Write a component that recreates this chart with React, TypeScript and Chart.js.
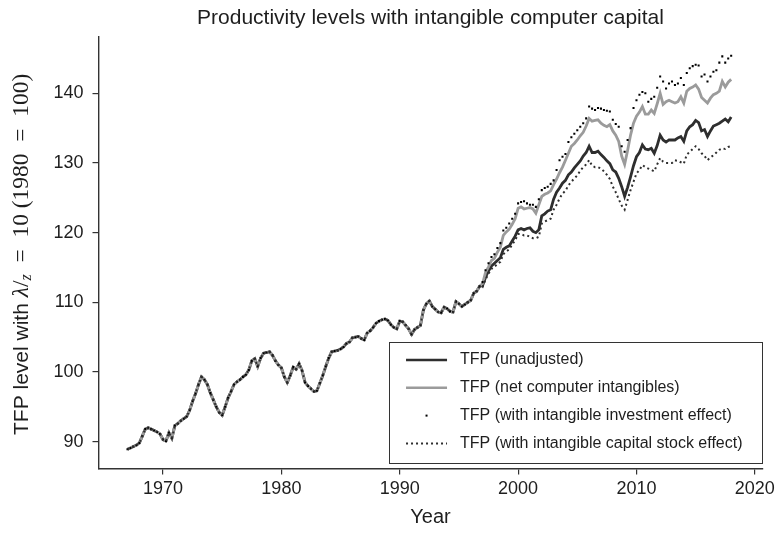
import React, { useEffect, useRef } from "react";
import { Chart, registerables } from "chart.js";

Chart.register(...registerables);

// ---- data (quarterly, first quarter 1967Q1) ----
const FIRST_YEAR = 1967;

// 1967Q1–1996Q4: all four series coincide
const commonTFP = [
  88.9, 89.1, 89.3, 89.5,
  89.8, 90.8, 91.8, 92.0,
  91.8, 91.6, 91.4, 91.1,
  90.3, 90.1, 91.3, 90.5,
  92.3, 92.6, 93.0, 93.3,
  93.6, 94.5, 95.8, 96.9,
  98.2, 99.3, 98.9, 98.2,
  97.0, 96.0, 95.0, 94.2,
  93.8, 95.0, 96.3, 97.2,
  98.2, 98.6, 98.9, 99.3,
  99.6, 100.3, 101.6, 101.9,
  100.8, 102.0, 102.7, 102.8,
  102.9, 102.4, 101.6, 101.0,
  100.6, 99.3, 98.5, 99.5,
  100.7, 100.4, 101.2, 100.2,
  98.5, 98.0, 97.6, 97.2,
  97.3, 98.4, 99.5, 100.8,
  102.0, 102.9, 103.0, 103.1,
  103.3, 103.6, 104.1, 104.3,
  104.9, 105.0, 105.1, 104.8,
  104.6, 105.6, 105.9, 106.4,
  107.0, 107.3, 107.5, 107.6,
  107.4, 106.8, 106.4, 106.2,
  107.3, 107.2, 106.7, 106.2,
  105.4, 106.1, 106.4, 106.7,
  108.9, 109.8, 110.2, 109.4,
  109.0, 108.6, 108.5, 109.3,
  109.1, 108.7, 108.6, 110.1,
  109.8, 109.4, 109.7, 110.0,
  110.3, 111.3, 111.6, 112.3,
];

// 1997Q1–2018Q1
const unadjustedTail = [
  112.4, 113.6, 114.5, 115.2,
  115.6, 116.0, 116.4, 117.6,
  117.9, 118.1, 118.8, 119.5,
  120.4, 120.6, 120.4, 120.6,
  120.7, 120.2, 120.0, 120.4,
  122.4, 122.7, 123.1, 123.3,
  124.8, 125.8, 126.4, 127.1,
  127.5, 128.3, 128.7, 129.3,
  129.8, 130.3, 131.0, 131.5,
  132.4, 131.5, 131.5, 131.7,
  131.2, 130.8, 130.3, 129.9,
  129.0, 128.7, 127.8, 126.6,
  125.2, 126.5, 128.0, 129.6,
  130.9, 131.5, 132.6, 132.0,
  131.9, 132.1, 131.4, 132.5,
  134.0, 133.3, 133.0, 133.3,
  133.3, 133.3, 133.6, 133.8,
  133.1, 134.6, 135.2, 135.5,
  136.1, 135.8, 134.6, 134.8,
  133.8, 134.6, 135.3, 135.5,
  135.7, 136.0, 136.3, 135.9,
  136.6,
];

const netIntangiblesTail = [
  112.7, 114.3, 115.1, 116.0,
  116.3, 117.2, 117.9, 119.6,
  120.1, 120.5, 121.2, 122.0,
  123.5, 123.7, 123.4, 123.5,
  123.6, 123.4, 122.8, 124.0,
  125.2, 125.5, 125.7, 126.0,
  126.9, 127.7, 128.6, 129.4,
  130.4, 131.4, 132.4, 132.8,
  133.3, 133.9, 134.4, 135.3,
  136.4, 136.0, 136.1, 136.2,
  135.7, 135.4, 135.2, 135.5,
  134.6, 134.0, 133.1, 131.0,
  129.8, 131.8, 134.0, 135.7,
  136.7, 137.3, 138.1, 137.0,
  137.0, 137.6, 137.1, 138.5,
  140.0, 138.4, 138.8, 139.0,
  138.8, 138.6, 138.8, 139.5,
  138.6, 140.3, 140.7, 140.9,
  141.2, 140.6, 139.4, 139.0,
  138.6, 139.3, 139.8, 140.0,
  140.3, 141.7, 140.9, 141.6,
  142.0,
];

const investmentTail = [
  112.9, 114.6, 115.6, 116.5,
  116.9, 117.8, 118.5, 120.3,
  120.7, 121.3, 122.0, 122.7,
  124.2, 124.4, 124.5, 124.2,
  124.0, 124.0, 123.7, 124.8,
  126.1, 126.4, 126.6, 127.0,
  127.5, 129.0, 130.4, 130.9,
  131.3, 133.0, 133.7, 134.2,
  134.7, 135.2, 135.7, 136.4,
  138.1, 137.8, 137.6, 137.9,
  137.8, 137.6, 137.5, 137.4,
  136.2, 135.6, 135.2, 132.4,
  131.6, 133.3, 135.0, 137.9,
  139.0, 139.8, 140.2, 140.0,
  138.8, 139.2, 139.5, 140.8,
  142.4, 141.7, 140.7, 141.4,
  141.7, 141.2, 141.4, 142.2,
  141.2, 142.9, 143.6, 143.9,
  144.1, 144.0, 142.4, 142.7,
  141.7, 142.4, 143.1, 143.3,
  144.4, 145.3, 144.4, 145.0,
  145.4,
];

const capitalStockTail = [
  112.2, 113.3, 114.1, 114.8,
  115.1, 115.5, 115.8, 116.9,
  117.3, 117.6, 118.3, 118.9,
  119.8, 119.8, 119.6, 119.6,
  119.4, 119.2, 119.2, 119.4,
  121.3, 121.6, 121.8, 122.0,
  123.3, 124.0, 124.9, 125.6,
  126.0, 126.8, 127.3, 127.8,
  128.2, 128.9, 129.4, 129.8,
  130.4, 129.6, 129.4, 129.4,
  129.2, 128.8, 128.3, 127.7,
  126.6, 125.8, 124.8, 123.9,
  123.3, 124.7, 126.1, 127.3,
  128.5, 129.0, 129.7, 129.4,
  129.2, 129.0, 128.8, 129.8,
  130.7, 130.2, 130.0, 130.0,
  130.0, 130.4, 130.3, 130.1,
  129.9, 131.2, 131.6, 132.0,
  132.4, 132.0, 131.4, 131.0,
  130.4, 130.8, 131.1, 131.5,
  131.9, 132.1, 132.0, 132.3,
  132.4,
];

const xTicks = [1970, 1980, 1990, 2000, 2010, 2020];
const yTicks = [90, 100, 110, 120, 130, 140];

const TITLE = "Productivity levels with intangible computer capital";
const X_TITLE = "Year";
const LEGEND_LABELS = [
  "TFP (unadjusted)",
  "TFP (net computer intangibles)",
  "TFP (with intangible investment effect)",
  "TFP (with intangible capital stock effect)",
];

const BLACK = "#2e2e2e";
const GREY = "#9b9b9b";
const SANS = '"Liberation Sans", Arial, Helvetica, sans-serif';
const SERIF = '"Liberation Serif", "DejaVu Serif", serif';

function toPoints(values: number[]) {
  return values.map((v, i) => ({ x: FIRST_YEAR + i / 4, y: v }));
}

const textPlugin = {
  id: "customText",
  afterDraw(chart: any) {
    const { ctx, chartArea } = chart;
    const cx = (chartArea.left + chartArea.right) / 2;
    ctx.save();
    ctx.fillStyle = "#1e1e1e";
    ctx.textBaseline = "alphabetic";

    // title
    ctx.font = `21px ${SANS}`;
    ctx.textAlign = "center";
    ctx.fillText(TITLE, cx, 24);

    // x title
    ctx.font = `20px ${SANS}`;
    ctx.fillText(X_TITLE, cx, 523);

    // y title (mixed fonts), reading bottom to top
    const parts = [
      { t: "TFP level with ", f: `21px ${SANS}`, dy: 0 },
      { t: "\u03BB", f: `italic 23.5px ${SERIF}`, dy: 0 },
      { t: "/", f: `23.5px ${SERIF}`, dy: 0 },
      { t: "z", f: `italic 16px ${SERIF}`, dy: 3 },
      { t: "\u2002=\u200210 (1980\u2002=\u2002100)", f: `23.5px ${SERIF}`, dy: 0 },
    ];
    ctx.translate(28, 435);
    ctx.rotate(-Math.PI / 2);
    ctx.textAlign = "left";
    let px = 0;
    parts.forEach((p) => {
      ctx.font = p.f;
      ctx.fillText(p.t, px, p.dy);
      px += ctx.measureText(p.t).width;
    });
    ctx.setTransform(1, 0, 0, 1, 0, 0);

    // legend
    const right = chartArea.right - 0.5;
    const bottom = chartArea.bottom - 6;
    const w = 373;
    const h = 121;
    const left = right - w;
    const top = bottom - h;
    ctx.fillStyle = "#ffffff";
    ctx.fillRect(left, top, w, h);
    ctx.strokeStyle = "#333";
    ctx.lineWidth = 1;
    ctx.strokeRect(Math.round(left) + 0.5, Math.round(top) + 0.5, w, h);

    const sx0 = left + 17;
    const sx1 = left + 58;
    const tx = left + 71;
    ctx.font = `16px ${SANS}`;
    ctx.textAlign = "left";
    ctx.textBaseline = "middle";
    for (let i = 0; i < 4; i++) {
      const y = top + 18.5 + i * 27.8;
      if (i === 0 || i === 1) {
        ctx.strokeStyle = i === 0 ? BLACK : GREY;
        ctx.lineWidth = 2.5;
        ctx.setLineDash([]);
        ctx.beginPath();
        ctx.moveTo(sx0, y);
        ctx.lineTo(sx1, y);
        ctx.stroke();
      } else if (i === 2) {
        ctx.fillStyle = "#000";
        ctx.fillRect((sx0 + sx1) / 2 - 1, y - 1, 2, 2);
      } else {
        ctx.strokeStyle = BLACK;
        ctx.lineWidth = 2;
        ctx.setLineDash([2, 3]);
        ctx.beginPath();
        ctx.moveTo(sx0, y);
        ctx.lineTo(sx1, y);
        ctx.stroke();
        ctx.setLineDash([]);
      }
      ctx.fillStyle = "#1e1e1e";
      ctx.fillText(LEGEND_LABELS[i], tx, y);
    }
    ctx.restore();
  },
};

export default function App() {
  const ref = useRef<HTMLCanvasElement | null>(null);

  useEffect(() => {
    if (!ref.current) return;
    const unadjusted = commonTFP.concat(unadjustedTail);
    const netIntangibles = commonTFP.concat(netIntangiblesTail);
    const investment = commonTFP.concat(investmentTail);
    const capitalStock = commonTFP.concat(capitalStockTail);

    const chart = new Chart(ref.current, {
      type: "line",
      data: {
        datasets: [
          {
            label: LEGEND_LABELS[0],
            data: toPoints(unadjusted),
            borderColor: BLACK,
            borderWidth: 2.8,
            pointRadius: 0,
            tension: 0,
            order: 3,
          },
          {
            label: LEGEND_LABELS[1],
            data: toPoints(netIntangibles),
            borderColor: GREY,
            borderWidth: 2.8,
            pointRadius: 0,
            tension: 0,
            order: 2,
          },
          {
            label: LEGEND_LABELS[2],
            data: toPoints(investment),
            showLine: false,
            pointStyle: "rect",
            pointRadius: 1.45,
            pointBorderWidth: 0,
            pointBackgroundColor: "#000",
            borderColor: "#000",
            order: 1,
          },
          {
            label: LEGEND_LABELS[3],
            data: toPoints(capitalStock),
            borderColor: BLACK,
            borderWidth: 2,
            borderDash: [2, 3],
            pointRadius: 0,
            tension: 0,
            order: 0,
          },
        ],
      },
      options: {
        animation: false,
        responsive: false,
        devicePixelRatio: 1,
        layout: { padding: { top: 37, right: 12, bottom: 30.5, left: 0 } },
        plugins: {
          legend: { display: false },
          title: { display: false },
          tooltip: { enabled: false },
        },
        scales: {
          x: {
            type: "linear",
            min: 1964.55,
            max: 2020.65,
            afterFit: (scale: any) => {
              scale.height = 40;
            },
            afterBuildTicks: (axis: any) => {
              axis.ticks = xTicks.map((v) => ({ value: v }));
            },
            grid: {
              drawOnChartArea: false,
              drawTicks: true,
              tickLength: 6,
              color: "#333",
              lineWidth: 1.2,
            },
            border: { display: true, color: "#333", width: 1.4 },
            ticks: {
              color: "#1e1e1e",
              font: { family: SANS, size: 18 },
              padding: 4,
              maxRotation: 0,
              autoSkip: false,
              callback: (v: any) => String(v),
            },
          },
          y: {
            type: "linear",
            min: 86.15,
            max: 148.08,
            afterFit: (scale: any) => {
              scale.width = 98.5;
            },
            afterBuildTicks: (axis: any) => {
              axis.ticks = yTicks.map((v) => ({ value: v }));
            },
            grid: {
              drawOnChartArea: false,
              drawTicks: true,
              tickLength: 6,
              color: "#333",
              lineWidth: 1.2,
            },
            border: { display: true, color: "#333", width: 1.4 },
            ticks: {
              color: "#1e1e1e",
              font: { family: SANS, size: 18 },
              padding: 9,
              callback: (v: any) => String(v),
            },
          },
        },
      },
      plugins: [textPlugin],
    });
    return () => chart.destroy();
  }, []);

  return (
    <div style={{ position: "absolute", left: 0, top: 0, width: 779, height: 539, background: "#fff" }}>
      <canvas ref={ref} width={779} height={539} style={{ display: "block", width: 779, height: 539 }} />
    </div>
  );
}
